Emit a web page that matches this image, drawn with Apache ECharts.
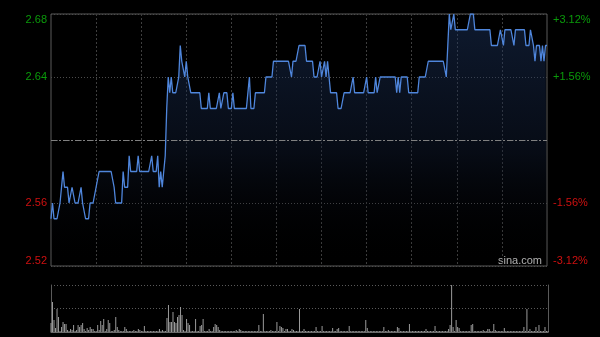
<!DOCTYPE html>
<html><head><meta charset="utf-8">
<script src="https://cdn.jsdelivr.net/npm/echarts@6/dist/echarts.min.js"></script>
<style>html,body{margin:0;padding:0;background:#000;}#c{width:600px;height:337px;}</style>
</head><body><div id="c"></div>
<script>
// price per minute (HK session 9:30-12:00, 13:00-16:00)
var prices = [
2.55,2.56,2.55,2.55,2.55,2.55,2.56,2.57,2.58,2.57,
2.57,2.57,2.56,2.56,2.57,2.57,2.56,2.56,2.56,2.56,
2.57,2.56,2.56,2.55,2.55,2.55,2.56,2.56,2.56,2.56,
2.57,2.57,2.58,2.58,2.58,2.58,2.58,2.58,2.58,2.58,
2.58,2.58,2.57,2.56,2.56,2.56,2.56,2.56,2.58,2.57,
2.57,2.57,2.59,2.58,2.58,2.58,2.58,2.58,2.59,2.58,
2.58,2.58,2.58,2.58,2.58,2.58,2.58,2.59,2.58,2.58,
2.58,2.59,2.57,2.58,2.57,2.57,2.59,2.62,2.64,2.63,
2.64,2.63,2.63,2.63,2.63,2.64,2.66,2.65,2.65,2.64,
2.65,2.64,2.64,2.63,2.63,2.63,2.63,2.63,2.63,2.63,
2.62,2.62,2.62,2.62,2.62,2.63,2.62,2.62,2.62,2.62,
2.62,2.62,2.63,2.62,2.62,2.63,2.63,2.63,2.62,2.62,
2.62,2.63,2.62,2.62,2.62,2.62,2.62,2.62,2.62,2.62,
2.62,2.62,2.64,2.62,2.62,2.62,2.63,2.63,2.63,2.63,
2.63,2.63,2.63,2.64,2.64,2.64,2.64,2.64,2.65,2.65,
2.65,2.65,2.65,2.65,2.65,2.65,2.65,2.65,2.65,2.65,
2.64,2.65,2.65,2.65,2.65,2.66,2.66,2.66,2.66,2.66,
2.65,2.65,2.65,2.65,2.65,2.64,2.64,2.64,2.64,2.65,
2.64,2.64,2.65,2.64,2.65,2.64,2.63,2.63,2.63,2.63,
2.63,2.62,2.62,2.62,2.62,2.63,2.63,2.63,2.63,2.63,
2.63,2.64,2.63,2.63,2.63,2.63,2.63,2.63,2.63,2.63,
2.64,2.63,2.63,2.63,2.63,2.63,2.64,2.63,2.63,2.64,
2.64,2.64,2.64,2.64,2.64,2.64,2.64,2.64,2.64,2.64,
2.63,2.64,2.63,2.64,2.64,2.64,2.64,2.64,2.63,2.63,
2.63,2.63,2.63,2.63,2.63,2.64,2.64,2.64,2.64,2.64,
2.64,2.65,2.65,2.65,2.65,2.65,2.65,2.65,2.65,2.65,
2.65,2.65,2.65,2.64,2.66,2.68,2.67,2.67,2.68,2.67,
2.67,2.67,2.67,2.67,2.67,2.67,2.67,2.67,2.67,2.68,
2.68,2.68,2.67,2.67,2.67,2.67,2.67,2.67,2.67,2.67,
2.67,2.67,2.67,2.66,2.66,2.66,2.66,2.66,2.66,2.67,
2.67,2.66,2.67,2.67,2.67,2.67,2.67,2.67,2.66,2.67,
2.67,2.67,2.67,2.67,2.67,2.67,2.66,2.66,2.66,2.67,
2.67,2.66,2.65,2.66,2.66,2.66,2.65,2.66,2.65,2.66,
2.66
];
var volumes = [
9,30,12,4,23,15,1,5,10,8,
8,2,1,3,2,7,1,2,7,5,
7,9,3,1,4,2,5,3,3,1,
1,7,2,11,7,13,1,3,12,9,
1,1,2,15,5,2,1,1,1,5,
3,1,1,1,1,2,1,1,3,2,
1,1,6,1,1,1,1,1,1,1,
1,1,3,1,2,1,1,14,27,10,
10,20,10,9,15,17,25,17,2,1,
13,9,7,1,1,1,13,1,1,6,
7,13,1,1,1,3,1,1,5,8,
7,5,2,1,1,1,1,1,1,1,
1,1,1,2,1,3,2,1,1,1,
1,1,1,1,1,1,1,1,7,1,
1,18,1,1,1,1,2,1,1,1,
10,1,6,5,4,1,3,3,1,1,
3,2,1,1,1,23,1,1,3,1,
1,1,1,1,1,1,5,1,1,1,
6,1,1,1,1,1,1,4,1,1,
3,4,1,1,1,1,1,1,6,1,
1,1,1,1,1,1,1,1,1,12,
4,1,1,1,1,1,1,1,1,1,
1,5,1,1,2,1,1,1,1,1,
5,4,1,1,1,1,1,1,8,1,
1,1,1,1,1,1,1,1,1,3,
1,1,1,1,1,6,1,1,1,1,
1,1,1,1,3,7,47,5,1,12,
5,4,1,1,1,1,1,1,1,7,
8,1,1,1,1,1,1,2,1,1,
3,3,1,1,8,2,1,1,1,1,
1,4,1,1,1,1,1,1,1,1,
1,1,1,1,5,1,23,1,3,1,
1,1,5,1,7,1,1,1,5,1,
1
];
var priceTicks = [2.52, 2.56, 2.60, 2.64, 2.68];
var leftLabels = ['2.52', '2.56', '', '2.64', '2.68'];
var rightLabels = ['-3.12%', '-1.56%', '', '+1.56%', '+3.12%'];
var prevClose = 2.60;

// minute categories
var categories = [];
(function(){
  function fmt(h,m){return (h<10?'0':'')+h+':'+(m<10?'0':'')+m;}
  for (var t = 9*60+30; t <= 12*60; t++) categories.push(fmt(Math.floor(t/60), t%60));
  for (var t2 = 13*60+1; t2 <= 16*60; t2++) categories.push(fmt(Math.floor(t2/60), t2%60));
})();

function tickIndex(v){
  var k = Math.round(v*100);
  for (var i=0;i<priceTicks.length;i++) if (Math.round(priceTicks[i]*100)===k) return i;
  return -1;
}
var GREEN = '#0a9a0a', RED = '#d01010';
var labelFont = {fontFamily:'Liberation Sans, Arial, sans-serif', fontSize:11};

var chart = echarts.init(document.getElementById('c'), null, {renderer:'canvas'});
chart.setOption({
  backgroundColor:'#000',
  animation:false,
  grid:[
    {left:51, top:14, width:496, height:252, show:true, borderColor:'#5a5a5a', borderWidth:1, backgroundColor:'transparent'},
    {left:51, top:285, width:497, height:47}
  ],
  xAxis:[
    {type:'category', gridIndex:0, data:categories, boundaryGap:false,
     axisLine:{show:false}, axisTick:{show:false}, axisLabel:{show:false},
     splitLine:{show:true, interval:function(i){return i%30===0 && i>0 && i<330;},
       lineStyle:{color:'#3e3e3e', type:[2,2], width:1}}},
    {type:'category', gridIndex:1, data:categories, boundaryGap:false,
     axisLine:{show:true, lineStyle:{color:'#6a6a6a'}}, axisTick:{show:false}, axisLabel:{show:false},
     splitLine:{show:false}}
  ],
  yAxis:[
    {type:'value', gridIndex:0, min:2.52, max:2.68, interval:0.04, position:'left',
     axisLine:{show:false}, axisTick:{show:false},
     axisLabel:Object.assign({show:true, margin:4,
       verticalAlignMaxLabel:'top', verticalAlignMinLabel:'bottom',
       formatter:function(v){var i=tickIndex(v);return i<0?'':leftLabels[i];},
       color:function(v){return v>prevClose?GREEN:RED;}}, labelFont),
     splitLine:{show:true, lineStyle:{color:'#4c4c4c', type:[1,2], width:1}}},
    {type:'value', gridIndex:0, min:2.52, max:2.68, interval:0.04, position:'right',
     axisLine:{show:false}, axisTick:{show:false},
     axisLabel:Object.assign({show:true, margin:6,
       verticalAlignMaxLabel:'top', verticalAlignMinLabel:'bottom',
       formatter:function(v){var i=tickIndex(v);return i<0?'':rightLabels[i];},
       color:function(v){return v>prevClose?GREEN:RED;}}, labelFont),
     splitLine:{show:false}},
    {type:'value', gridIndex:1, min:0, max:47, interval:23.5, position:'left',
     axisLine:{show:true, lineStyle:{color:'#5a5a5a'}}, axisTick:{show:false}, axisLabel:{show:false},
     splitLine:{show:true, lineStyle:{color:'#5a5a5a', type:[1,2]}}},
    {type:'value', gridIndex:1, min:0, max:47, interval:23.5, position:'right',
     axisLine:{show:true, lineStyle:{color:'#5a5a5a'}}, axisTick:{show:false}, axisLabel:{show:false},
     splitLine:{show:false}}
  ],
  series:[
    {type:'line', xAxisIndex:0, yAxisIndex:0, data:prices, symbol:'none', showSymbol:false,
     lineStyle:{color:'#4f86dc', width:1.3},
     areaStyle:{color:new echarts.graphic.LinearGradient(0,0,0,1,[
       {offset:0,color:'rgba(34,62,112,0.6)'},
       {offset:0.55,color:'rgba(18,30,55,0.55)'},
       {offset:1,color:'rgba(0,0,0,0)'}])},
     markLine:{silent:true, symbol:'none', label:{show:false},
       lineStyle:{color:'#808080', type:[6,2,2,2], width:1},
       data:[{yAxis:prevClose}]},
     z:3},
    {type:'bar', xAxisIndex:1, yAxisIndex:2, data:volumes, barWidth:1,
     itemStyle:{color:'#9a9a9a'}}
  ],
  graphic:[
    {type:'text', left:498, top:255, silent:true,
     style:{text:'sina.com', fill:'#b4b4b4', fontSize:11, fontFamily:'Liberation Sans, Arial, sans-serif'}}
  ]
});
</script>
</body></html>
